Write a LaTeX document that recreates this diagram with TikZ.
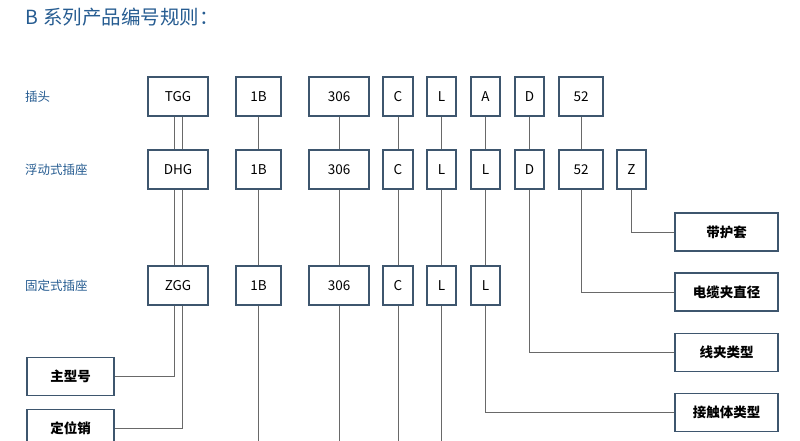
\documentclass[tikz,border=0pt]{standalone}
\usepackage{fontspec}
\setmainfont{Noto Sans CJK SC}
\usepackage{tikz}

\definecolor{boxc}{RGB}{62,86,110}
\definecolor{linec}{RGB}{105,105,105}
\definecolor{labc}{RGB}{38,92,145}

\begin{document}
\begin{tikzpicture}[x=1pt, y=-1pt,
    code/.style={draw=boxc, line width=1.1pt, minimum height=39pt, inner sep=0pt, font=\fontsize{13.5}{13.5}\selectfont},
    desc/.style={draw=boxc, line width=1.1pt, minimum width=103pt, minimum height=38pt, inner sep=0pt, font=\fontsize{13.5}{13.5}\selectfont\bfseries},
    rowlab/.style={anchor=west, text=labc, inner sep=0pt, font=\fontsize{12.5}{12.5}\selectfont},
    conn/.style={draw=linec, line width=1pt}]
      \useasboundingbox (0,0) rectangle (800,441);

        % Title
        \node[anchor=west, text=labc, inner sep=0pt, font=\fontsize{19.5}{19.5}\selectfont] (title) at (25, 17) {B\hspace{5pt}系列产品编号规则：};

        % Row labels
        \node[rowlab] (lab1) at (25, 97) {插头};
        \node[rowlab] (lab2) at (25, 170) {浮动式插座};
        \node[rowlab] (lab3) at (25, 286) {固定式插座};

        % Row 1
        \node[code, minimum width=60pt] (tgg) at (178, 96.5) {TGG};
        \node[code, minimum width=45pt] (ab) at (258.5, 96.5) {1B};
        \node[code, minimum width=60pt] (anum) at (339, 96.5) {306};
        \node[code, minimum width=30pt] (ac) at (398, 96.5) {C};
        \node[code, minimum width=29pt] (al) at (441.5, 96.5) {L};
        \node[code, minimum width=29pt] (aa) at (485.5, 96.5) {A};
        \node[code, minimum width=29pt] (ad) at (529.5, 96.5) {D};
        \node[code, minimum width=44pt] (adia) at (581, 96.5) {52};

        % Row 2
        \node[code, minimum width=60pt] (dhg) at (178, 169.5) {DHG};
        \node[code, minimum width=45pt] (bb) at (258.5, 169.5) {1B};
        \node[code, minimum width=60pt] (bnum) at (339, 169.5) {306};
        \node[code, minimum width=30pt] (bc) at (398, 169.5) {C};
        \node[code, minimum width=29pt] (bl) at (441.5, 169.5) {L};
        \node[code, minimum width=29pt] (bl2) at (485.5, 169.5) {L};
        \node[code, minimum width=29pt] (bd) at (529.5, 169.5) {D};
        \node[code, minimum width=44pt] (bdia) at (581, 169.5) {52};
        \node[code, minimum width=29pt] (bz) at (631.5, 169.5) {Z};

        % Row 3
        \node[code, minimum width=60pt] (zgg) at (178, 285.5) {ZGG};
        \node[code, minimum width=45pt] (cb) at (258.5, 285.5) {1B};
        \node[code, minimum width=60pt] (cnum) at (339, 285.5) {306};
        \node[code, minimum width=30pt] (cc) at (398, 285.5) {C};
        \node[code, minimum width=29pt] (cl) at (441.5, 285.5) {L};
        \node[code, minimum width=29pt] (cl2) at (485.5, 285.5) {L};

        % Descriptions
        \node[desc, minimum width=87pt] (zhu) at (70.5, 376.5) {主型号};
        \node[desc, minimum width=87pt] (pin) at (70.5, 428.5) {定位销};
        \node[desc] (sheath) at (726.5, 232) {带护套};
        \node[desc] (clampdia) at (726.5, 292) {电缆夹直径};
        \node[desc] (clamp) at (726.5, 352.5) {线夹类型};
        \node[desc] (contact) at (726.5, 412.5) {接触体类型};

        % Free ends at the bottom edge
        \coordinate (endb) at (258.5, 441);
        \coordinate (endnum) at (339, 441);
        \coordinate (endc) at (398, 441);
        \coordinate (endl) at (441.5, 441);

        % Double line of the main type
        \draw[conn] ([xshift=-4pt]tgg.south) -- ([xshift=-4pt]dhg.north);
        \draw[conn] ([xshift=4pt]tgg.south) -- ([xshift=4pt]dhg.north);
        \draw[conn] ([xshift=-4pt]dhg.south) -- ([xshift=-4pt]zgg.north);
        \draw[conn] ([xshift=4pt]dhg.south) -- ([xshift=4pt]zgg.north);
        \draw[conn] ([xshift=-4pt]zgg.south) |- (zhu.east);
        \draw[conn] ([xshift=4pt]zgg.south) |- (pin.east);

        % Row 1 to row 2
        \draw[conn] (ab) -- (bb);
        \draw[conn] (anum) -- (bnum);
        \draw[conn] (ac) -- (bc);
        \draw[conn] (al) -- (bl);
        \draw[conn] (aa) -- (bl2);
        \draw[conn] (ad) -- (bd);
        \draw[conn] (adia) -- (bdia);

        % Row 2 to row 3
        \draw[conn] (bb) -- (cb);
        \draw[conn] (bnum) -- (cnum);
        \draw[conn] (bc) -- (cc);
        \draw[conn] (bl) -- (cl);
        \draw[conn] (bl2) -- (cl2);

        % To the descriptions
        \draw[conn] (bz.south) |- (sheath.west);
        \draw[conn] (bdia.south) |- (clampdia.west);
        \draw[conn] (bd.south) |- (clamp.west);
        \draw[conn] (cl2.south) |- (contact.west);

        % Down past the edge
        \draw[conn] (cb.south) -- (endb);
        \draw[conn] (cnum.south) -- (endnum);
        \draw[conn] (cc.south) -- (endc);
        \draw[conn] (cl.south) -- (endl);

    \end{tikzpicture}
\end{document}
